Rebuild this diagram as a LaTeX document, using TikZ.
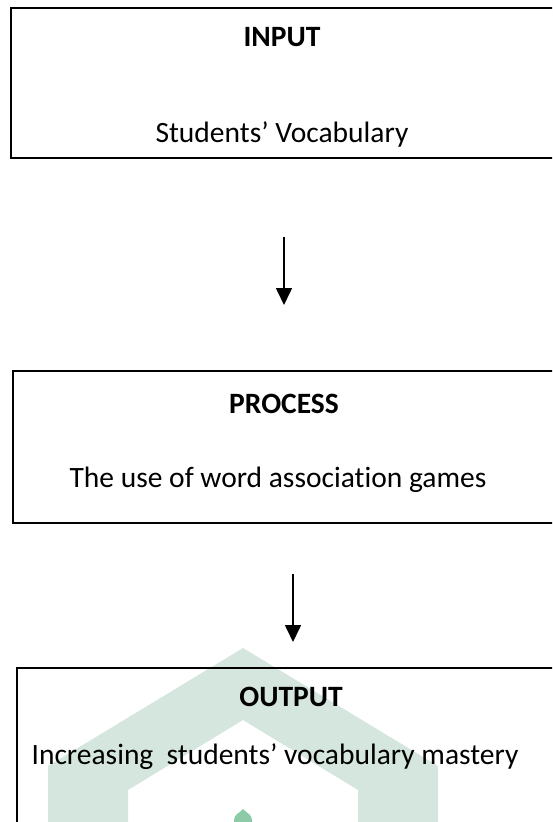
\documentclass[tikz,border=0pt]{standalone}
\usepackage{fontspec}
\setmainfont{Carlito}[Ligatures=NoCommon]
\usetikzlibrary{arrows.meta}
\definecolor{wmark}{HTML}{D5E6DE}
\definecolor{wdome}{HTML}{8CCBA8}

\begin{document}
\begin{tikzpicture}[x=1pt, y=-1pt,
    box/.style={draw, line width=1.6pt, rectangle, anchor=north west, inner sep=0pt},
    heading/.style={font=\fontsize{29.5}{34}\selectfont\bfseries, anchor=base, inner sep=0pt},
    body/.style={font=\fontsize{29.5}{34}\selectfont, anchor=base, inner sep=0pt},
    flow/.style={line width=1.6pt, -{Triangle[width=16pt, length=17pt]}}
]
\useasboundingbox (0,0) rectangle (552,822);
\clip (0,0) rectangle (552,822);

% Watermark
\fill[wmark] (48,870) -- (48,766) -- (243,648) -- (438,766) -- (438,870)
    -- (358,870) -- (358,790) -- (243,720) -- (128,790) -- (128,870) -- cycle;
\fill[wdome] (234,826) -- (234,820) .. controls (234,814) and (240,813) .. (243,809)
    .. controls (246,813) and (252,814) .. (252,820) -- (252,826) -- cycle;

% Nodes
\node[box, minimum width=600pt, minimum height=150pt] (inbox) at (10,7) {};
\node[heading] (intitle) at (282,46) {INPUT};
\node[body] (intext) at (282,142) {Students’ Vocabulary};

\node[box, minimum width=600pt, minimum height=152pt] (procbox) at (12,370) {};
\node[heading] (proctitle) at (284,413) {PROCESS};
\node[body] (proctext) at (278,487) {The use of word association games};

\node[box, minimum width=600pt, minimum height=200pt] (outbox) at (16,667) {};
\node[heading] (outtitle) at (291,706) {OUTPUT};
\node[body] (outtext) at (275,764) {Increasing\ \ students’ vocabulary mastery};

% Connections
\coordinate (col1) at (284,0);
\coordinate (col2) at (293,0);
\draw[flow, shorten <=78pt, shorten >=65pt] (inbox.south -| col1) -- (procbox.north -| col1);
\draw[flow, shorten <=50pt, shorten >=25pt] (procbox.south -| col2) -- (outbox.north -| col2);
\end{tikzpicture}
\end{document}
